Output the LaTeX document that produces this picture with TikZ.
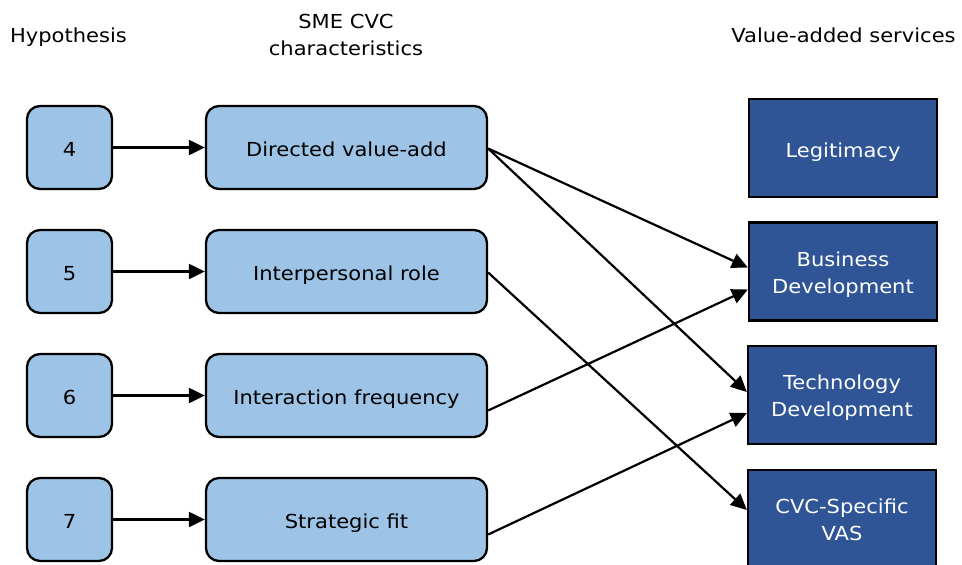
\documentclass[tikz,border=0pt]{standalone}
\usepackage{fontspec}
\setmainfont{DejaVu Sans}[FakeStretch=1.09]
\usetikzlibrary{arrows.meta}
\definecolor{lightbox}{RGB}{157,195,230}
\definecolor{darkbox}{RGB}{47,85,151}
% two centred lines, baseline on the last one
\newcommand{\twolines}[2]{\begin{tabular}[b]{@{}c@{}}#1\\#2\end{tabular}}
\begin{document}
\begin{tikzpicture}[x=1pt,y=-1pt,
  txt/.style={font=\fontsize{19.3}{26.6}\selectfont, inner sep=0pt},
  oneline/.style={text height=18pt, text depth=0pt},
  twoline/.style={text height=43pt, text depth=0pt},
  hypbox/.style={txt, oneline, draw=black, line width=2.3pt, fill=lightbox, rounded corners=13pt,
    minimum width=85pt, minimum height=83pt},
  charbox/.style={txt, oneline, draw=black, line width=2.3pt, fill=lightbox, rounded corners=13pt,
    minimum width=281pt, minimum height=83pt},
  vasbox/.style={txt, draw=black, line width=2.3pt, fill=darkbox, text=white,
    minimum width=188pt, minimum height=98pt},
  link/.style={line width=2.2pt, -{Triangle[length=16pt,width=15pt]}}]
\useasboundingbox (0,0) rectangle (962,565);
\clip (0,0) rectangle (962,565);

% column headings
\node[txt, anchor=base] (h1) at (68.5,42.7) {Hypothesis};
\node[txt, anchor=base] (h2) at (346,55) {\twolines{SME CVC}{characteristics}};
\node[txt, anchor=base] (h3) at (843.5,42.7) {Value-added services};

% hypotheses
\node[hypbox] (n4) at (69.5,147.5) {4};
\node[hypbox] (n5) at (69.5,271.5) {5};
\node[hypbox] (n6) at (69.5,395.5) {6};
\node[hypbox] (n7) at (69.5,519.5) {7};

% CVC characteristics
\node[charbox] (c1) at (346.5,147.5) {Directed value-add};
\node[charbox] (c2) at (346.5,271.5) {Interpersonal role};
\node[charbox] (c3) at (346.5,395.5) {Interaction frequency};
\node[charbox] (c4) at (346.5,519.5) {Strategic fit};

% value-added services
\node[vasbox, oneline] (v1) at (843,148) {Legitimacy};
\node[vasbox, twoline] (v2) at (843,271.5) {\twolines{Business}{Development}};
\node[vasbox, twoline] (v3) at (842,395) {\twolines{Technology}{Development}};
\node[vasbox, twoline] (v4) at (842,519) {\twolines{CVC-Specific}{VAS}};

% hypothesis to characteristic
\draw[link] (n4) -- (c1);
\draw[link] (n5) -- (c2);
\draw[link] (n6) -- (c3);
\draw[link] (n7) -- (c4);

% characteristic to service
\draw[link] ([yshift=-1pt]c1.east) -- ([yshift=4pt]v2.west);
\draw[link] ([yshift=-1pt]c1.east) -- ([yshift=3pt]v3.west);
\draw[link] ([yshift=-1pt]c2.east) -- ([yshift=9pt]v4.west);
\draw[link] ([yshift=-15pt]c3.east) -- ([yshift=-18pt]v2.west);
\draw[link] ([yshift=-15pt]c4.east) -- ([yshift=-18pt]v3.west);
\end{tikzpicture}
\end{document}
